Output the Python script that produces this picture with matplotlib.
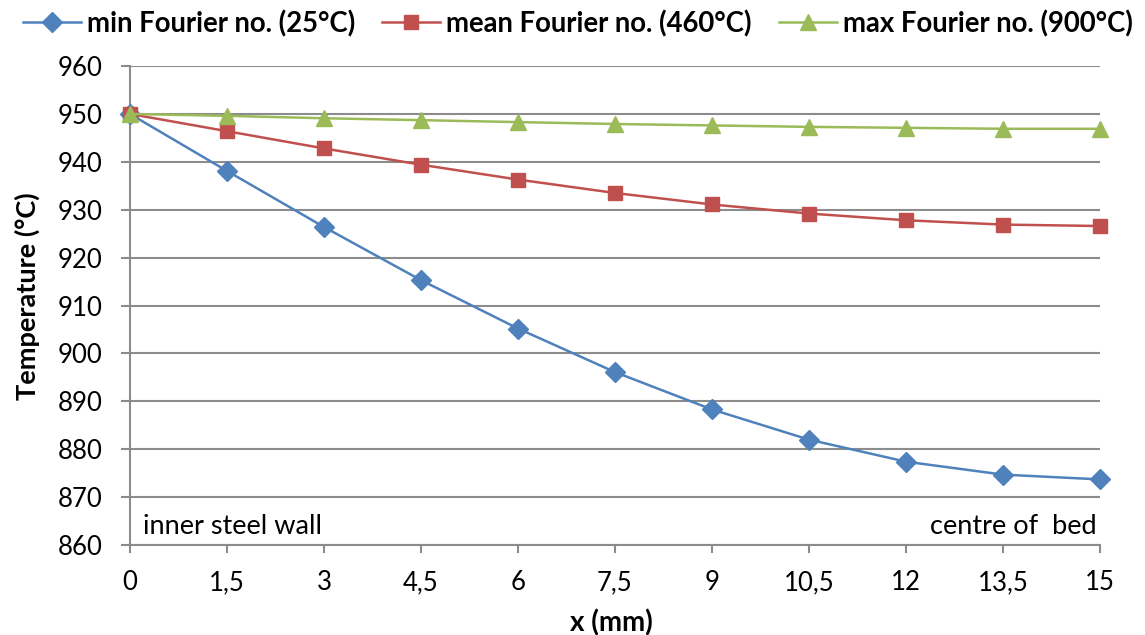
import matplotlib.pyplot as plt

plt.rcParams['font.family'] = ['Lato', 'DejaVu Sans']

x_mm = [0, 1.5, 3, 4.5, 6, 7.5, 9, 10.5, 12, 13.5, 15]
x_labels = ["0", "1,5", "3", "4,5", "6", "7,5", "9", "10,5", "12", "13,5", "15"]

t_min = [950.0, 938.1, 926.4, 915.3, 905.2, 896.1, 888.3, 882.0, 877.4, 874.7, 873.7]
t_mean = [950.0, 946.4, 942.8, 939.4, 936.3, 933.5, 931.1, 929.2, 927.8, 926.9, 926.6]
t_max = [950.0, 949.6, 949.1, 948.7, 948.3, 947.9, 947.6, 947.3, 947.1, 946.9, 946.9]

series = [
    ("min Fourier no. (25°C)", t_min, "#4F81BD", "D", 10.5),
    ("mean Fourier no. (460°C)", t_mean, "#C0504D", "s", 10.5),
    ("max Fourier no. (900°C)", t_max, "#9BBB59", "^", 12),
]

fig = plt.figure(figsize=(11.45, 6.35), dpi=100)
ax = fig.add_axes([0.1135, 0.1417, 0.8472, 0.7543])

for label, vals, color, marker, ms in series:
    ax.plot(x_mm, vals, color=color, lw=1.8, marker=marker, ms=ms,
            markeredgecolor=color, label=label, clip_on=False, zorder=3)

grid_c = "#8C8C8C"
ax.set_xlim(0, 15)
ax.set_ylim(860, 960)
ax.set_yticks(range(860, 961, 10))
ax.set_xticks(x_mm)
ax.set_xticklabels(x_labels)
ax.yaxis.grid(True, color=grid_c, lw=1.5)
ax.set_axisbelow(True)
for side in ("top", "right"):
    ax.spines[side].set_visible(False)
for side in ("left", "bottom"):
    ax.spines[side].set_color(grid_c)
    ax.spines[side].set_linewidth(1.5)
ax.tick_params(axis="both", colors=grid_c, width=1.5, labelsize=18.5,
               labelcolor="black")
ax.tick_params(axis="x", length=6, pad=12)
ax.tick_params(axis="y", length=6.5, pad=13)

ax.set_xlabel("x (mm)", fontsize=20, fontweight="bold", va="top")
ax.xaxis.set_label_coords(0.496, -0.135)
ax.set_ylabel("Temperature (°C)", fontsize=19.5, fontweight="bold")
ax.yaxis.set_label_coords(-0.093, 0.52)

ax.text(0.2, 861.2, "inner steel wall", fontsize=19.5, ha="left", va="bottom")
ax.text(14.95, 861.2, "centre of  bed", fontsize=19.5, ha="right", va="bottom")

leg = fig.legend(loc="upper left", bbox_to_anchor=(0.008, 1.006), ncol=3,
                 frameon=False, borderpad=0, handlelength=2.1, columnspacing=1.0,
                 handletextpad=0.22, prop={"size": 19.8, "weight": "bold"})

fig.savefig("out.png", dpi=100)
